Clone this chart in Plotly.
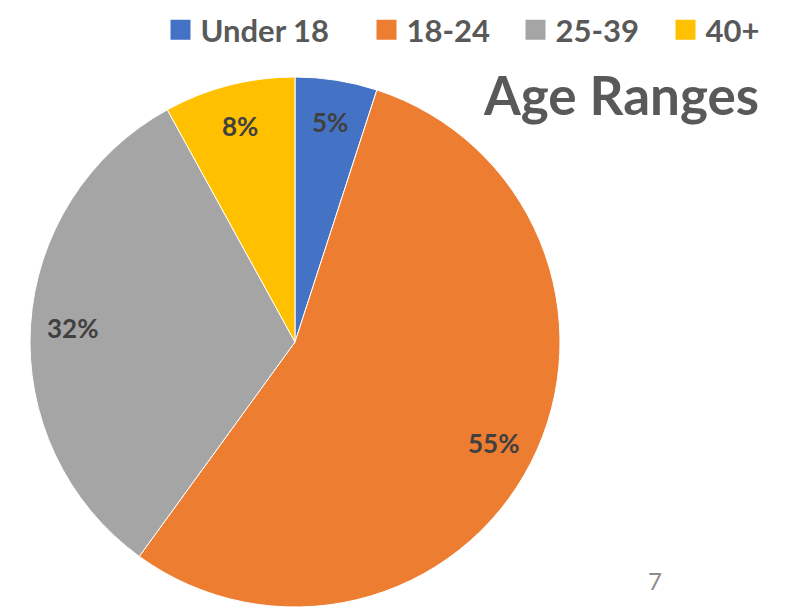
import math
import plotly.graph_objects as go

categories = ["Under 18", "18-24", "25-39", "40+"]
values = [5, 55, 32, 8]
colors = ["#4472C4", "#ED7D31", "#A5A5A5", "#FFC000"]

# the page body adds an 8px margin, so the figure is laid out in page pixels minus 8
OFF = 8
W, H = 795 - OFF, 613 - OFF


def fx(x):
    return (x - OFF) / W


def fy(y):
    return 1 - (y - OFF) / H


CX, CY, R = 295, 342, 265

fig = go.Figure()
fig.add_trace(go.Pie(
    labels=categories,
    values=values,
    sort=False,
    direction="clockwise",
    rotation=0,
    marker=dict(colors=colors, line=dict(color="white", width=1)),
    textinfo="none",
    domain=dict(x=[fx(CX - R), fx(CX + R)], y=[fy(CY + R), fy(CY - R)]),
    hoverinfo="label+percent",
    showlegend=False,
))

# legend entries: one small legend per entry so the spacing matches
legend_square_centers = [180.5, 386.5, 535.5, 685.5]
legend_names = ["legend", "legend2", "legend3", "legend4"]
legend_font = dict(family="Lato", size=31, color="#595959", weight="bold")
layout_legends = {}
for name, col, lg, sx in zip(categories, colors, legend_names, legend_square_centers):
    fig.add_trace(go.Scatter(
        x=[None], y=[None], mode="markers", name=name,
        marker=dict(symbol="square", size=16, color=col, line=dict(color=col, width=4)),
        showlegend=True, legend=lg,
    ))
    layout_legends[lg] = dict(
        orientation="h",
        x=fx(sx - 20), y=fy(3), xanchor="left", yanchor="top",
        font=legend_font,
        itemsizing="trace",
        itemwidth=30,
        bgcolor="rgba(0,0,0,0)",
    )

# percentage labels placed along each slice's mid-angle
total = sum(values)
annotations = []
cum = 0
for v in values:
    mid = (cum + v / 2) / total * 2 * math.pi
    cum += v
    r = 0.84 * R
    px = CX + r * math.sin(mid)
    py = CY - r * math.cos(mid)
    annotations.append(dict(
        text=f"{round(v / total * 100)}%", x=fx(px), y=fy(py),
        xref="paper", yref="paper", xanchor="center", yanchor="middle",
        showarrow=False,
        font=dict(family="Lato", size=26, color="#404040", weight="bold"),
    ))

annotations += [
    dict(text="Age Ranges", x=fx(761), y=fy(95), xref="paper", yref="paper",
         xanchor="right", yanchor="middle", showarrow=False,
         font=dict(family="Lato", size=53, color="#595959", weight="bold")),
    dict(text="7", x=fx(655), y=fy(580), xref="paper", yref="paper",
         xanchor="center", yanchor="middle", showarrow=False,
         font=dict(family="Lato", size=24, color="#8C8C8C")),
]

fig.update_layout(
    width=W, height=H,
    margin=dict(l=0, r=0, t=0, b=0, autoexpand=False),
    paper_bgcolor="white",
    plot_bgcolor="white",
    xaxis=dict(visible=False),
    yaxis=dict(visible=False),
    showlegend=True,
    annotations=annotations,
    **layout_legends,
)

fig.write_html("out.html")
